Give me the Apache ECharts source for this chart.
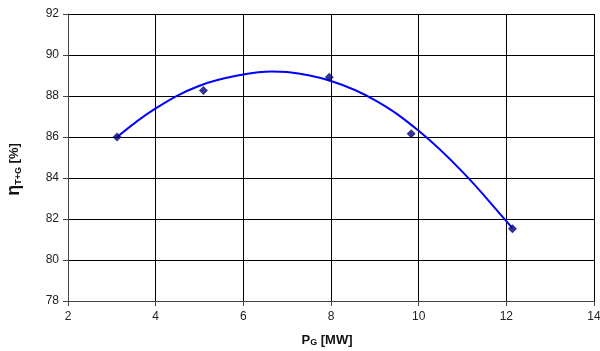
<!DOCTYPE html>
<html><head><meta charset="utf-8">
<script src="https://cdn.jsdelivr.net/npm/echarts@6/dist/echarts.min.js"></script>
<style>html,body{margin:0;padding:0;background:#fff}#c{width:600px;height:351px}</style>
</head><body><div id="c"></div>
<script>
// measured points
var pointX = [3.12, 5.09, 7.96, 9.83, 12.14];
var pointY = [86.0, 88.27, 88.92, 86.16, 81.53];
// trend curve
var curveX = [3.12, 4, 5, 6, 6.65, 7, 8, 9, 10, 11, 12, 12.14];
var curveY = [86.0, 87.4, 88.5, 89.05, 89.2, 89.17, 88.73, 87.8, 86.3, 84.3, 81.9, 81.55];
var xTicks = [2, 4, 6, 8, 10, 12, 14];
var yTicks = [78, 80, 82, 84, 86, 88, 90, 92];

var chart = echarts.init(document.getElementById('c'));
chart.setOption({
  animation: false,
  grid: {left: 68, right: 6, top: 14, bottom: 50, outerBoundsMode: 'none', containLabel: false},
  xAxis: {
    type: 'value', min: xTicks[0], max: xTicks[xTicks.length - 1], interval: 2,
    axisLine: {show: true, lineStyle: {color: '#444', width: 1}},
    axisTick: {show: true, length: 5, lineStyle: {color: '#444'}},
    axisLabel: {color: '#222', fontFamily: 'Liberation Sans', fontSize: 12, margin: 10},
    splitLine: {show: true, lineStyle: {color: '#000', width: 1}},
    name: '{a|P}{b|G}{a| [MW]}', nameLocation: 'middle', nameGap: 33,
    nameTextStyle: {
      padding: [0, 0, 0, -8],
      rich: {
        a: {fontFamily: 'Liberation Sans', fontSize: 13, fontWeight: 'bold', color: '#111'},
        b: {fontFamily: 'Liberation Sans', fontSize: 9, fontWeight: 'bold', color: '#111', verticalAlign: 'bottom', padding: [4, 0, 0, 0]}
      }
    }
  },
  yAxis: {
    type: 'value', min: yTicks[0], max: yTicks[yTicks.length - 1], interval: 2,
    axisLine: {show: true, lineStyle: {color: '#444', width: 1}},
    axisTick: {show: true, length: 5, lineStyle: {color: '#444'}},
    axisLabel: {color: '#222', fontFamily: 'Liberation Sans', fontSize: 12, margin: 9},
    splitLine: {show: true, lineStyle: {color: '#000', width: 1}},
    name: '{e|η}{b|T+G}{a| [%]}', nameLocation: 'middle', nameGap: 45, nameRotate: 90,
    nameTextStyle: {
      padding: [0, 24, 0, 0],
      rich: {
        e: {fontFamily: 'Liberation Sans', fontSize: 18, fontWeight: 'bold', color: '#111'},
        a: {fontFamily: 'Liberation Sans', fontSize: 13, fontWeight: 'bold', color: '#111'},
        b: {fontFamily: 'Liberation Sans', fontSize: 9, fontWeight: 'bold', color: '#111', verticalAlign: 'bottom'}
      }
    }
  },
  series: [
    {
      type: 'line', smooth: 0.4, showSymbol: false,
      data: curveX.map(function (x, i) { return [x, curveY[i]]; }),
      lineStyle: {color: '#0000ff', width: 2}, z: 2
    },
    {
      type: 'scatter', symbol: 'diamond', symbolSize: 9,
      data: pointX.map(function (x, i) { return [x, pointY[i]]; }),
      itemStyle: {color: '#00007a'}, z: 3
    }
  ]
});
</script></body></html>
